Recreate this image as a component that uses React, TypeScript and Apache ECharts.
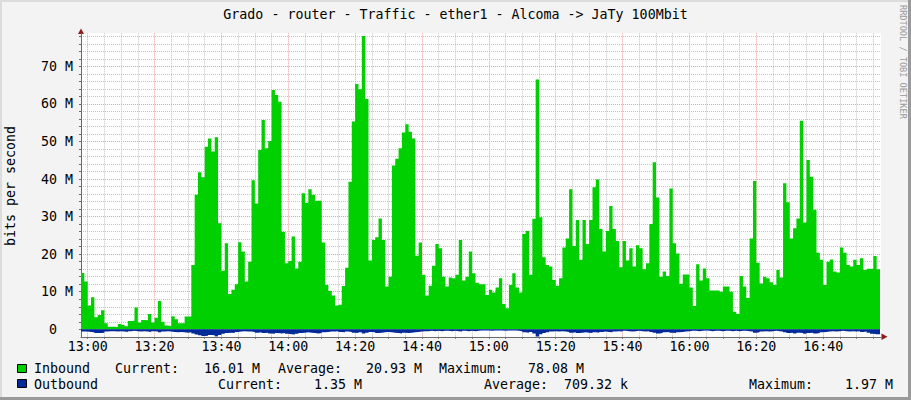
import React, { useEffect, useRef } from "react";
import * as echarts from "echarts";

// minutes relative to 13:00; first sample starts at 12:58, one sample per minute
const START_MIN = -2;

// Inbound traffic, Mbit/s, one value per minute from 12:58
const inboundMbps = [
  15, 12.7, 6.3, 8.5, 3.2, 3.8, 5.1, 1.6, 0.7, 0.7,
  0.6, 1.4, 1.2, 0.8, 2.2, 2.3, 5.8, 1.8, 2.5, 2.4,
  4.1, 1.8, 3.1, 7.5, 2.0, 1.0, 0.9, 3.5, 2.7, 1.6,
  1.6, 3.4, 3.4, 17.1, 35.8, 41.8, 40.5, 48.6, 50.8, 47.3,
  51.1, 28.2, 15.6, 22.9, 9.4, 10.5, 12, 23.2, 20.7, 12.7,
  18, 39.7, 33.5, 47.7, 55.7, 48.2, 50.1, 63.7, 62.4, 60.6,
  26, 17.6, 18.2, 24.7, 16.2, 18, 36.2, 33.7, 37.3, 35.8,
  34.2, 34.2, 23.1, 11.8, 10.2, 9.0, 6.3, 6.5, 11.5, 16.4,
  39.3, 55.3, 65.3, 63.9, 78.08, 61.3, 18.3, 23.8, 24.5, 29.5,
  23.8, 11.4, 14, 43.6, 45.4, 48.2, 52.4, 54.6, 52.6, 50.8,
  19.6, 23.1, 14.5, 9, 11.6, 16.9, 22.7, 21.6, 14, 11.4,
  13.8, 13.6, 14.5, 23.8, 13, 14, 20.7, 14.9, 12.4, 12,
  12, 9.1, 10.5, 9.8, 11.1, 13.6, 6.7, 5.6, 11.8, 14.9,
  11.1, 9.8, 25.4, 26.2, 14.5, 29.4, 66.5, 29.8, 19.2, 17.1,
  16.7, 13.1, 11.6, 13.6, 21.8, 24.2, 37.3, 22.2, 29.1, 18.5,
  29.1, 22.7, 29.1, 37.8, 39.9, 26.7, 20.7, 26.2, 32.8, 26.7,
  23.5, 16.5, 23.5, 18.3, 21.6, 16.7, 22.4, 21.6, 16, 17.6,
  28, 44.5, 35.1, 14, 15.4, 14.2, 37.5, 22.9, 20.2, 12.1,
  14.6, 14.6, 11.1, 6.2, 17.3, 13, 16.2, 13.6, 10.3, 10.3,
  10.3, 10, 11.4, 11.4, 10, 4.7, 4.1, 14.2, 11.4, 8.3,
  24.2, 39.5, 17.7, 12.2, 14, 13.6, 12.5, 11.8, 15.8, 13.8,
  38.9, 33.8, 24.2, 26.9, 29.5, 55.5, 28.4, 45.1, 40.6, 31.8,
  20.4, 18.5, 11.8, 18, 18.6, 15.4, 15.1, 21.8, 20.4, 17.1,
  16.7, 18.5, 17.1, 18.9, 15.8, 16.1, 16.1, 19.5, 16.01,
];

// Outbound traffic, Mbit/s (drawn below zero), one value per minute from 12:58
const outboundMbps = [
  0.6, 0.6, 0.7, 0.8, 1.0, 1.0, 0.9, 0.6, 0.5, 0.5,
  0.6, 0.5, 0.6, 0.7, 0.5, 0.4, 0.5, 0.6, 0.5, 0.6,
  0.7, 0.5, 0.6, 0.8, 0.6, 0.5, 0.6, 0.7, 0.8, 0.7,
  0.8, 0.9, 0.8, 1.1, 1.4, 1.6, 1.8, 1.7, 1.5, 1.6,
  1.9, 1.5, 1.2, 1.0, 0.9, 1.0, 0.7, 0.6, 0.5, 0.6,
  0.6, 0.7, 0.9, 0.8, 1.0, 0.9, 1.1, 1.2, 1.0, 1.1,
  1.0, 1.2, 1.3, 1.4, 1.2, 1.0, 0.9, 0.8, 0.9, 1.0,
  1.1, 1.0, 0.8, 0.7, 0.6, 0.6, 0.5, 0.7, 0.8, 0.6,
  0.7, 0.9, 1.0, 0.8, 1.1, 0.9, 0.7, 0.8, 1.0, 0.9,
  0.8, 0.7, 0.8, 0.9, 1.0, 1.1, 0.9, 1.0, 0.9, 0.8,
  0.7, 0.6, 0.5, 0.5, 0.4, 0.5, 0.4, 0.5, 0.4, 0.4,
  0.5, 0.4, 0.5, 0.6, 0.4, 0.5, 0.4, 0.5, 0.4, 0.3,
  0.3, 0.3, 0.4, 0.3, 0.3, 0.3, 0.4, 0.3, 0.3, 0.3,
  0.4, 0.5, 0.8, 0.9, 0.7, 1.1, 1.97, 1.3, 1.0, 0.8,
  0.6, 0.5, 0.6, 0.5, 0.6, 0.7, 0.9, 0.8, 1.0, 0.9,
  0.8, 0.9, 1.0, 0.8, 0.9, 0.7, 0.6, 0.7, 0.8, 0.6,
  0.5, 0.6, 0.4, 0.5, 0.6, 0.5, 0.4, 0.5, 0.6, 0.5,
  0.7, 0.9, 1.1, 1.0, 0.8, 0.7, 0.9, 1.0, 0.8, 0.7,
  0.6, 0.5, 0.4, 0.4, 0.5, 0.4, 0.3, 0.4, 0.5, 0.4,
  0.4, 0.5, 0.4, 0.4, 0.5, 0.4, 0.5, 0.4, 0.4, 0.5,
  0.6, 0.9, 0.8, 0.6, 0.5, 0.6, 0.5, 0.4, 0.5, 0.6,
  0.8, 1.0, 0.9, 1.1, 0.9, 1.0, 1.2, 1.0, 0.9, 1.1,
  1.0, 0.8, 0.7, 0.6, 0.5, 0.6, 0.5, 0.4, 0.5, 0.6,
  0.5, 0.6, 0.5, 0.7, 0.6, 0.9, 1.2, 1.3, 1.35,
];

// x axis: grid every 5 minutes, labels every 20 minutes
const xGridMinutes = [
  0, 5, 10, 15, 20, 25, 30, 35, 40, 45, 50, 55, 60, 65, 70, 75, 80, 85, 90, 95,
  100, 105, 110, 115, 120, 125, 130, 135, 140, 145, 150, 155, 160, 165, 170, 175,
  180, 185, 190, 195, 200, 205, 210, 215, 220, 225, 230, 235,
];
const xLabelMinutes = [0, 20, 40, 60, 80, 100, 120, 140, 160, 180, 200, 220];
const xLabelTexts = ["13:00", "13:20", "13:40", "14:00", "14:20", "14:40", "15:00", "15:20", "15:40", "16:00", "16:20", "16:40"];

// y axis: grid every 2 M, labels every 10 M
const yGridM = [0, 2, 4, 6, 8, 10, 12, 14, 16, 18, 20, 22, 24, 26, 28, 30, 32, 34, 36, 38, 40, 42, 44, 46, 48, 50, 52, 54, 56, 58, 60, 62, 64, 66, 68, 70, 72, 74, 76, 78];
const yLabelM = [0, 10, 20, 30, 40, 50, 60, 70];

const TITLE = "Grado - router - Traffic - ether1 - Alcoma -> JaTy 100Mbit";
const legendInbound = { name: "Inbound", current: "16.01 M", average: "20.93 M", maximum: "78.08 M" };
const legendOutbound = { name: "Outbound", current: "1.35 M", average: "709.32 k", maximum: "1.97 M" };

const FONT = '"DejaVu Sans Mono", "Liberation Mono", monospace';
const FS = 13.3;
const GREEN = "#00CF00";
const BLUE = "#002A97";
const RED_GRID = "#EE9E9E";
const GRAY_GRID = "#C4C4C4";
const AXIS = "#6B6B6B";

function txt(text: string, x: number, y: number, extra: any = {}) {
  return {
    type: "text",
    x,
    y,
    silent: true,
    style: {
      text,
      fill: "#000",
      fontFamily: FONT,
      fontSize: FS,
      font: `${FS}px ${FONT}`,
      align: "left",
      textAlign: "left",
      verticalAlign: "middle",
      textVerticalAlign: "middle",
      ...extra,
    },
  };
}

export default function App() {
  const ref = useRef<HTMLDivElement>(null);

  useEffect(() => {
    const chart = echarts.init(ref.current!, null, { renderer: "svg" });

    const inData: number[][] = inboundMbps.map((v, i) => [START_MIN + i, v * 1e6]);
    inData.push([START_MIN + inboundMbps.length, inboundMbps[inboundMbps.length - 1] * 1e6]);
    const outData: number[][] = outboundMbps.map((v, i) => [START_MIN + i, -v * 1e6]);
    outData.push([START_MIN + outboundMbps.length, -outboundMbps[outboundMbps.length - 1] * 1e6]);

    const r1 = 368.6;
    const r2 = 384.3;

    const option: any = {
      animation: false,
      backgroundColor: "#F3F3F3",
      grid: {
        left: 81,
        top: 33.3,
        width: 800,
        bottom: 63.2,
        show: true,
        backgroundColor: "#FFFFFF",
        borderWidth: 0,
      },
      xAxis: {
        type: "value",
        min: START_MIN,
        max: 237.3,
        axisLine: { show: true, onZero: false, lineStyle: { color: AXIS, width: 1 } },
        axisTick: { show: true, customValues: xGridMinutes, length: 2, lineStyle: { color: AXIS } },
        axisLabel: {
          customValues: xLabelMinutes,
          formatter: (v: number) => xLabelTexts[xLabelMinutes.indexOf(Math.round(v))] ?? "",
          fontFamily: FONT,
          fontSize: FS,
          color: "#000",
          margin: 3,
        },
        splitLine: {
          show: true,
          lineStyle: { color: [RED_GRID, GRAY_GRID, GRAY_GRID, GRAY_GRID], type: [1, 1], width: 1 },
        },
      },
      yAxis: {
        type: "value",
        min: -2e6,
        max: 78.8e6,
        axisLine: { show: true, onZero: false, lineStyle: { color: AXIS, width: 1 } },
        axisTick: { show: true, customValues: yGridM.map((m) => m * 1e6), length: 2, lineStyle: { color: AXIS } },
        axisLabel: {
          customValues: yLabelM.map((m) => m * 1e6),
          formatter: (v: number) => (Math.abs(v) < 1 ? "{z|0}" : `${Math.round(v / 1e6)} M`),
          fontFamily: FONT,
          fontSize: FS,
          color: "#000",
          margin: 8,
          rich: { z: { fontFamily: FONT, fontSize: FS, color: "#000", padding: [0, 16, 0, 0] } },
        },
        splitLine: {
          show: true,
          lineStyle: { color: [RED_GRID, GRAY_GRID, GRAY_GRID, GRAY_GRID, GRAY_GRID], type: [1, 1], width: 1 },
        },
      },
      series: [
        {
          name: "Inbound",
          type: "line",
          step: "end",
          symbol: "none",
          data: inData,
          lineStyle: { width: 0 },
          areaStyle: { color: GREEN, opacity: 1 },
          z: 2,
        },
        {
          name: "Outbound",
          type: "line",
          step: "end",
          symbol: "none",
          data: outData,
          lineStyle: { width: 0 },
          areaStyle: { color: BLUE, opacity: 1 },
          z: 3,
        },
      ],
      graphic: [
        // frame
        { type: "rect", silent: true, shape: { x: 0, y: 0, width: 911, height: 2 }, style: { fill: "#DCDCDC" } },
        { type: "rect", silent: true, shape: { x: 0, y: 0, width: 2, height: 400 }, style: { fill: "#DCDCDC" } },
        { type: "rect", silent: true, shape: { x: 908, y: 0, width: 3, height: 400 }, style: { fill: "#9A9A9A" } },
        { type: "rect", silent: true, shape: { x: 0, y: 397, width: 911, height: 3 }, style: { fill: "#9A9A9A" } },
        // axis arrows
        { type: "polygon", silent: true, shape: { points: [[78, 34], [84, 34], [81, 28.5]] }, style: { fill: "#8E1B1B" } },
        { type: "polygon", silent: true, shape: { points: [[881.5, 333.5], [881.5, 340], [887.5, 336.8]] }, style: { fill: "#8E1B1B" } },
        // title
        txt(TITLE, 455.5, 14.5, { align: "center", textAlign: "center" }),
        // y axis name
        { ...txt("bits per second", 10, 186, { align: "center", textAlign: "center" }), rotation: Math.PI / 2 },
        // watermark
        {
          ...txt("RRDTOOL / TOBI OETIKER", 902.5, 5, { fill: "#9C9C9C", fontSize: 8.6, font: `8.6px ${FONT}` }),
          rotation: -Math.PI / 2,
        },
        // legend
        { type: "rect", silent: true, shape: { x: 17.5, y: 364.5, width: 9, height: 8 }, style: { fill: GREEN, stroke: "#000", lineWidth: 1 } },
        { type: "rect", silent: true, shape: { x: 17.5, y: 379.5, width: 9, height: 8 }, style: { fill: BLUE, stroke: "#000", lineWidth: 1 } },
        txt(legendInbound.name, 34, r1),
        txt("Current:", 115, r1),
        txt(legendInbound.current, 204, r1),
        txt("Average:", 278, r1),
        txt(legendInbound.average, 366, r1),
        txt("Maximum:", 439, r1),
        txt(legendInbound.maximum, 528, r1),
        txt(legendOutbound.name, 34, r2),
        txt("Current:", 218, r2),
        txt(legendOutbound.current, 314, r2),
        txt("Average:", 484, r2),
        txt(legendOutbound.average, 564, r2),
        txt("Maximum:", 749, r2),
        txt(legendOutbound.maximum, 845, r2),
      ],
    };

    chart.setOption(option);
    return () => chart.dispose();
  }, []);

  return <div ref={ref} style={{ position: "fixed", left: 0, top: 0, width: 911, height: 400 }} />;
}
